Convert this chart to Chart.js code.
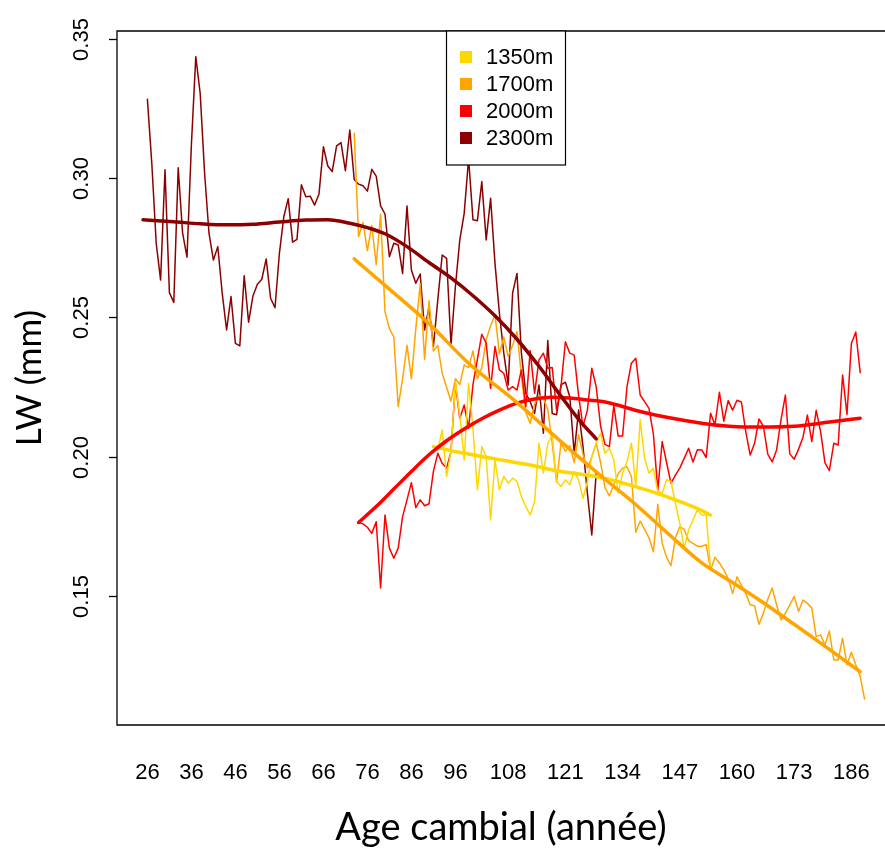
<!DOCTYPE html>
<html>
<head>
<meta charset="utf-8">
<title>LW selon l'âge cambial</title>
<script src="https://cdn.jsdelivr.net/npm/chart.js"></script>
<style>
  body { margin: 0; background: #fff; }
</style>
</head>
<body>
<canvas id="myChart" width="885" height="849"></canvas>
<script>
// axes
var xTicks = [26, 36, 46, 56, 66, 76, 86, 96, 108, 121, 134, 147, 160, 173, 186];
var yTicks = [0.15, 0.20, 0.25, 0.30, 0.35];
var xTitle = 'Age cambial (année)';
var yTitle = 'LW (mm)';

var seriesNames = ['1350m', '1700m', '2000m', '2300m'];
var seriesColors = ['#FFD700', '#FFA500', '#FF0000', '#8B0000'];

// LW annuel, une valeur par année à partir de l'âge de départ
var start1350 = 91;
var lw1350 = [0.2037, 0.2025, 0.2097, 0.1930, 0.2019, 0.2270, 0.2150, 0.1989, 0.2264, 0.2100,
  0.1882, 0.2037, 0.2001, 0.1774, 0.1989, 0.1882, 0.1930, 0.1906, 0.1924, 0.1912,
  0.1858, 0.1822, 0.1792, 0.1840, 0.2049, 0.1942, 0.2049, 0.2079, 0.1911, 0.1894,
  0.1918, 0.1900, 0.1948, 0.1918, 0.1852, 0.1912, 0.2001, 0.2049, 0.2085, 0.2013,
  0.2030, 0.1990, 0.1870, 0.1942, 0.1983, 0.2049, 0.1894, 0.2133, 0.1995, 0.1942,
  0.1959, 0.1876, 0.1870, 0.1918, 0.1912, 0.1834, 0.1762, 0.1673, 0.1738, 0.1774,
  0.1810, 0.1792, 0.1792, 0.1600];

var start1700 = 73;
var lw1700 = [0.316, 0.279, 0.284, 0.274, 0.283, 0.269, 0.287, 0.252, 0.246, 0.243,
  0.218, 0.228, 0.240, 0.228, 0.246, 0.262, 0.235, 0.256, 0.238, 0.240,
  0.230, 0.225, 0.220, 0.228, 0.226, 0.233, 0.232, 0.238, 0.228, 0.232,
  0.242, 0.247, 0.251, 0.237, 0.243, 0.236, 0.240, 0.245, 0.229, 0.216,
  0.212, 0.219, 0.222, 0.221, 0.217, 0.205, 0.191, 0.205, 0.202, 0.204,
  0.198, 0.208, 0.201, 0.196, 0.200, 0.205, 0.198, 0.189, 0.186, 0.190,
  0.194, 0.196, 0.1965, 0.193, 0.173, 0.177, 0.174, 0.171, 0.166, 0.183,
  0.169, 0.164, 0.161, 0.171, 0.175, 0.174, 0.170, 0.169, 0.168, 0.168,
  0.1685, 0.1595, 0.164, 0.162, 0.1595, 0.1565, 0.151, 0.157, 0.154, 0.151,
  0.147, 0.1466, 0.140, 0.144, 0.149, 0.153, 0.147, 0.1416, 0.144, 0.147,
  0.150, 0.1446, 0.1487, 0.1475, 0.1458, 0.1356, 0.1362, 0.1326, 0.1376, 0.1272,
  0.1272, 0.135, 0.1255, 0.130, 0.1255, 0.1213, 0.1132];

var start2000 = 74;
var lw2000 = [0.1765, 0.1760, 0.1748, 0.1726, 0.1768, 0.1530, 0.1792, 0.1673, 0.1637, 0.1673,
  0.1786, 0.1846, 0.1908, 0.1818, 0.1846, 0.1825, 0.1832, 0.1948, 0.2013, 0.1977,
  0.1960, 0.2019, 0.2264, 0.2139, 0.2186, 0.2103, 0.2260, 0.2350, 0.2440, 0.2408,
  0.2246, 0.2396, 0.2312, 0.2300, 0.2240, 0.2252, 0.2240, 0.2312, 0.2180, 0.2381,
  0.2228, 0.2348, 0.2372, 0.2318, 0.2321, 0.2168, 0.2252, 0.2413, 0.2372, 0.2365,
  0.2220, 0.2110, 0.2168, 0.2318, 0.2252, 0.2110, 0.2045, 0.2037, 0.2185, 0.2075,
  0.2075, 0.2252, 0.2336, 0.2354, 0.2222, 0.2198, 0.2174, 0.2082, 0.1880, 0.2055,
  0.1980, 0.1905, 0.1935, 0.1960, 0.1995, 0.2031, 0.1982, 0.2026, 0.2025, 0.1998,
  0.2157, 0.2115, 0.2232, 0.2128, 0.2202, 0.2168, 0.2203, 0.2197, 0.2090, 0.2007,
  0.2049, 0.2136, 0.2110, 0.2010, 0.1982, 0.2025, 0.2133, 0.2222, 0.2011, 0.1992,
  0.2028, 0.2071, 0.2150, 0.2055, 0.2167, 0.2091, 0.1979, 0.1951, 0.2049, 0.2043,
  0.2294, 0.2152, 0.2407, 0.2448, 0.2302];

var start2300 = 26;
var lw2300 = [0.3282, 0.3053, 0.2766, 0.2634, 0.3030, 0.2589, 0.2554, 0.3037, 0.2802, 0.2716,
  0.3120, 0.3435, 0.3303, 0.3017, 0.2802, 0.2706, 0.2754, 0.2587, 0.2455, 0.2575,
  0.2407, 0.2398, 0.2650, 0.2483, 0.2578, 0.2619, 0.2637, 0.2710, 0.2569, 0.2535,
  0.2730, 0.2861, 0.2926, 0.2770, 0.2780, 0.2976, 0.2933, 0.2935, 0.2903, 0.2943,
  0.3112, 0.3043, 0.3023, 0.3115, 0.3127, 0.3026, 0.3172, 0.2995, 0.2978, 0.2972,
  0.2953, 0.3031, 0.3007, 0.2900, 0.2871, 0.2718, 0.2766, 0.2760, 0.2658, 0.2900,
  0.2670, 0.2623, 0.2656, 0.2455, 0.2537, 0.2396, 0.2563, 0.2724, 0.2712, 0.2402,
  0.2611, 0.2778, 0.2873, 0.3070, 0.2850, 0.2847, 0.2987, 0.2778, 0.2927, 0.2694,
  0.2515, 0.2372, 0.2258, 0.2587, 0.2658, 0.2372, 0.2228, 0.2198, 0.2156, 0.2258,
  0.2085, 0.2417, 0.2156, 0.2151, 0.2258, 0.2268, 0.2216, 0.2013, 0.2168, 0.2037,
  0.1870, 0.1720, 0.1942];

// courbes lissées (âge, LW)
var trendAge1350 = [91, 98, 105, 113, 120, 128, 136, 144, 148, 152, 154];
var trendLw1350 = [0.2037, 0.2013, 0.1993, 0.1971, 0.1948, 0.1930, 0.1898, 0.1858, 0.1834, 0.1808, 0.1792];
var trendAge1700 = [73, 80, 90, 99, 110, 120, 130, 136, 144, 152, 159, 165, 173, 181, 188];
var trendLw1700 = [0.2710, 0.2615, 0.2478, 0.2336, 0.2195, 0.2055, 0.1920, 0.1843, 0.1730, 0.1620, 0.1550, 0.1488, 0.1400, 0.1310, 0.1230];
var trendAge2000 = [74, 78, 82, 86, 90, 94, 98, 102, 106, 110, 114, 118, 122, 126, 130, 134, 138, 144, 152, 159, 165, 173, 181, 188];
var trendLw2000 = [0.1765, 0.1822, 0.1885, 0.1948, 0.2008, 0.2058, 0.2100, 0.2137, 0.2168, 0.2193, 0.2208, 0.2214, 0.2211, 0.2204, 0.2197, 0.2181, 0.2163, 0.2142, 0.2121, 0.2109, 0.2107, 0.2110, 0.2125, 0.2139];
var trendAge2300 = [25, 32, 38, 44, 50, 56, 62, 67, 72, 76, 80, 85, 90, 95, 100, 105, 110, 115, 120, 124, 128];
var trendLw2300 = [0.2850, 0.2843, 0.2836, 0.2832, 0.2834, 0.2842, 0.2849, 0.2850, 0.2838, 0.2822, 0.2800, 0.2754, 0.2697, 0.2642, 0.2578, 0.2506, 0.2422, 0.2325, 0.2218, 0.2135, 0.2065];

function yearly(start, vals) {
  return vals.map(function (v, i) { return {x: start + i, y: v}; });
}
function paired(ages, vals) {
  return ages.map(function (a, i) { return {x: a, y: vals[i]}; });
}

var raw = [yearly(start1350, lw1350), yearly(start1700, lw1700), yearly(start2000, lw2000), yearly(start2300, lw2300)];
var trends = [paired(trendAge1350, trendLw1350), paired(trendAge1700, trendLw1700),
  paired(trendAge2000, trendLw2000), paired(trendAge2300, trendLw2300)];

var datasets = [];
// ordre de tracé : courbes lissées au-dessus des séries brutes
var rawOrder = [5, 7, 6, 8];
var trendOrder = [3, 1, 2, 0];
for (var i = 0; i < 4; i++) {
  datasets.push({
    label: seriesNames[i], data: raw[i], borderColor: seriesColors[i],
    borderWidth: 1.5, order: rawOrder[i]
  });
  datasets.push({
    label: seriesNames[i] + ' lissé', data: trends[i], borderColor: seriesColors[i],
    borderWidth: 3.5, cubicInterpolationMode: 'monotone', order: trendOrder[i]
  });
}

var AXIS_FONT = '22px "Liberation Sans", Arial, sans-serif';
var XTITLE_FONT = '38px Lato, "Open Sans", sans-serif';
var YTITLE_FONT = '35px Lato, "Open Sans", sans-serif';

// cadre, graduations, titres et légende façon R
var rFrame = {
  id: 'rFrame',
  afterDraw: function (chart) {
    var ctx = chart.ctx, a = chart.chartArea;
    var xs = chart.scales.x, ys = chart.scales.y;
    ctx.save();
    ctx.strokeStyle = '#000';
    ctx.lineWidth = 1.3;
    ctx.beginPath();
    ctx.moveTo(chart.width + 5, a.top);
    ctx.lineTo(a.left, a.top);
    ctx.lineTo(a.left, a.bottom);
    ctx.lineTo(chart.width + 5, a.bottom);
    ctx.stroke();

    ctx.fillStyle = '#000';
    ctx.font = AXIS_FONT;
    ctx.textAlign = 'center';
    ctx.textBaseline = 'middle';
    yTicks.forEach(function (v) {
      var y = Math.round(ys.getPixelForValue(v)) + 0.5;
      ctx.beginPath();
      ctx.moveTo(a.left - 8, y);
      ctx.lineTo(a.left, y);
      ctx.stroke();
      ctx.save();
      ctx.translate(82, y);
      ctx.rotate(-Math.PI / 2);
      ctx.fillText(v.toFixed(2), 0, 0);
      ctx.restore();
    });
    xTicks.forEach(function (v) {
      ctx.fillText(String(v), xs.getPixelForValue(v), 773);
    });

    ctx.font = XTITLE_FONT;
    ctx.fillText(xTitle, (a.left + a.right) / 2, 828);
    ctx.save();
    ctx.font = YTITLE_FONT;
    ctx.translate(30, (a.top + a.bottom) / 2);
    ctx.rotate(-Math.PI / 2);
    ctx.fillText(yTitle, 0, 0);
    ctx.restore();

    // légende
    var lx = 446.5, ly = a.top, lw = 119, lh = 134;
    ctx.fillStyle = '#fff';
    ctx.fillRect(lx, ly, lw, lh);
    ctx.lineWidth = 1.2;
    ctx.strokeRect(lx, ly, lw, lh);
    ctx.font = AXIS_FONT;
    ctx.textAlign = 'left';
    seriesNames.forEach(function (name, k) {
      var cy = ly + 26 + k * 27;
      ctx.fillStyle = seriesColors[k];
      ctx.fillRect(460, cy - 6, 12, 12);
      ctx.fillStyle = '#000';
      ctx.fillText(name, 486, cy + 1);
    });
    ctx.restore();
  }
};

var ctx = document.getElementById('myChart').getContext('2d');
var chart = new Chart(ctx, {
  type: 'line',
  data: { datasets: datasets },
  options: {
    responsive: false,
    animation: false,
    devicePixelRatio: 1,
    layout: { padding: { left: 117, right: 0, top: 31, bottom: 124 } },
    elements: {
      point: { radius: 0 },
      line: { tension: 0, fill: false, borderCapStyle: 'round', borderJoinStyle: 'round' }
    },
    plugins: { legend: { display: false }, tooltip: { enabled: false } },
    scales: {
      x: { type: 'linear', min: 19.09, max: 193.64, display: false },
      y: { type: 'linear', min: 0.1039, max: 0.3527, display: false }
    }
  },
  plugins: [rFrame]
});
</script>
</body>
</html>
